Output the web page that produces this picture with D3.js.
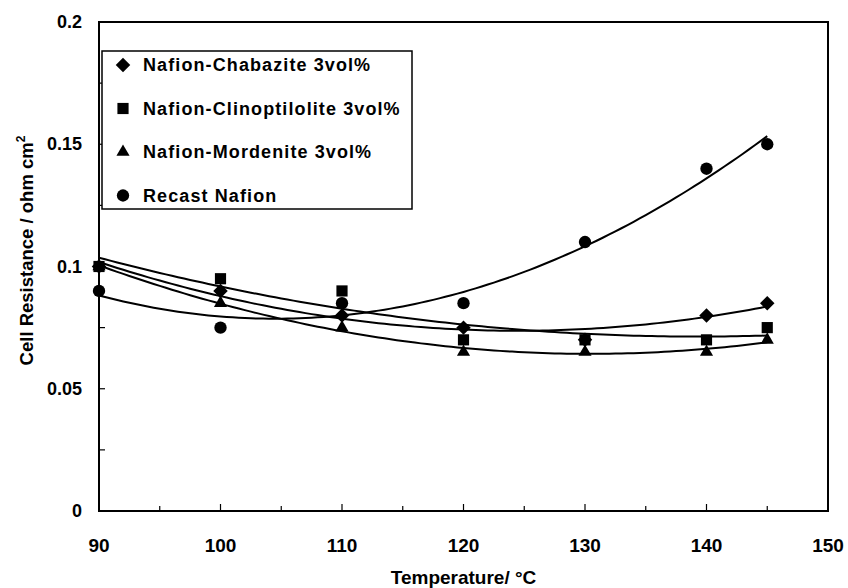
<!DOCTYPE html>
<html lang="en">
<head>
<meta charset="UTF-8">
<title>Cell Resistance vs Temperature</title>
<script src="https://d3js.org/d3.v7.min.js"></script>
<style>
    body { margin: 0; background: #fff; }
    svg text { font-family: "Liberation Sans", Arial, sans-serif; font-weight: bold; fill: #000; }
    .narrow { font-family: "Liberation Sans Narrow", "Liberation Sans", Arial, sans-serif; }
</style>
</head>
<body>
<div id="chart"></div>
<script>
// data
const temps = [90, 100, 110, 120, 130, 140, 145];
const chabazite = [0.100, 0.090, 0.080, 0.075, 0.070, 0.080, 0.085];
const clinoptilolite = [0.100, 0.095, 0.090, 0.070, 0.070, 0.070, 0.075];
const mordenite = [0.100, 0.085, 0.075, 0.065, 0.065, 0.065, 0.070];
const recast = [0.090, 0.075, 0.085, 0.085, 0.110, 0.140, 0.150];
const seriesNames = ["Nafion-Chabazite 3vol%", "Nafion-Clinoptilolite 3vol%", "Nafion-Mordenite 3vol%", "Recast Nafion"];
const xTicks = [90, 100, 110, 120, 130, 140, 150];
const yTicks = [0, 0.05, 0.1, 0.15, 0.2];

const series = [
    { name: seriesNames[0], values: chabazite, shape: "diamond" },
    { name: seriesNames[1], values: clinoptilolite, shape: "square" },
    { name: seriesNames[2], values: mordenite, shape: "triangle" },
    { name: seriesNames[3], values: recast, shape: "circle" }
];

const width = 848, height = 588;
const margin = { top: 22, right: 20, bottom: 77, left: 99 };

const svg = d3.select("#chart").append("svg")
    .attr("width", width)
    .attr("height", height);

const x = d3.scaleLinear().domain([90, 150]).range([margin.left, width - margin.right]);
const y = d3.scaleLinear().domain([0, 0.2]).range([height - margin.bottom, margin.top]);

// quadratic least squares trendline (like the spreadsheet polynomial fit)
function quadFit(xs, ys) {
    const c = d3.mean(xs);
    const S = [0, 0, 0, 0, 0], T = [0, 0, 0];
    xs.forEach((xv, i) => {
        const u = xv - c;
        for (let k = 0; k < 5; k++) S[k] += Math.pow(u, k);
        for (let k = 0; k < 3; k++) T[k] += ys[i] * Math.pow(u, k);
    });
    const A = [[S[0], S[1], S[2], T[0]], [S[1], S[2], S[3], T[1]], [S[2], S[3], S[4], T[2]]];
    for (let i = 0; i < 3; i++) {
        for (let j = i + 1; j < 3; j++) {
            const f = A[j][i] / A[i][i];
            for (let k = i; k < 4; k++) A[j][k] -= f * A[i][k];
        }
    }
    const b = [0, 0, 0];
    for (let i = 2; i >= 0; i--) {
        let s = A[i][3];
        for (let k = i + 1; k < 3; k++) s -= A[i][k] * b[k];
        b[i] = s / A[i][i];
    }
    return t => b[0] + b[1] * (t - c) + b[2] * (t - c) * (t - c);
}

// frame
svg.append("rect")
    .attr("x", x(90)).attr("y", y(0.2))
    .attr("width", x(150) - x(90)).attr("height", y(0) - y(0.2))
    .attr("fill", "none").attr("stroke", "#000").attr("stroke-width", 2);

// x ticks (inside, every 5)
svg.append("g")
    .selectAll("line")
    .data(d3.range(95, 150, 5))
    .join("line")
    .attr("x1", d => x(d)).attr("x2", d => x(d))
    .attr("y1", y(0)).attr("y2", d => y(0) - (d % 10 === 0 ? 7 : 5))
    .attr("stroke", "#000").attr("stroke-width", 1.2);

// y ticks (inside, every 0.025)
svg.append("g")
    .selectAll("line")
    .data(d3.range(1, 8).map(i => i * 0.025))
    .join("line")
    .attr("x1", x(90)).attr("x2", x(90) + 6)
    .attr("y1", d => y(d)).attr("y2", d => y(d))
    .attr("stroke", "#000").attr("stroke-width", 1.2);

// tick labels
svg.append("g")
    .selectAll("text")
    .data(xTicks)
    .join("text")
    .attr("class", "narrow")
    .attr("x", d => x(d)).attr("y", y(0) + 41)
    .attr("text-anchor", "middle")
    .attr("font-size", 19)
    .text(d => d);

svg.append("g")
    .selectAll("text")
    .data(yTicks)
    .join("text")
    .attr("x", x(90) - 17).attr("y", d => y(d) + 6)
    .attr("text-anchor", "end")
    .attr("font-size", 18)
    .text(d => d3.format("~g")(d));

// axis titles
svg.append("text")
    .attr("class", "narrow")
    .attr("x", (x(90) + x(150)) / 2).attr("y", 584)
    .attr("text-anchor", "middle")
    .attr("font-size", 19)
    .text("Temperature/ °C");

const yt = svg.append("text")
    .attr("transform", `translate(33,${(y(0) + y(0.2)) / 2 - 16}) rotate(-90)`)
    .attr("text-anchor", "middle")
    .attr("font-size", 18.5);
yt.append("tspan").text("Cell Resistance / ohm cm");
yt.append("tspan").attr("font-size", 12).attr("dy", -8).text("2");

// trendlines
const line = d3.line().x(d => x(d[0])).y(d => y(d[1]));
series.forEach(s => {
    const f = quadFit(temps, s.values);
    const pts = d3.range(90, 145.01, 0.5).map(t => [t, f(t)]);
    svg.append("path")
        .datum(pts)
        .attr("d", line)
        .attr("fill", "none")
        .attr("stroke", "#000")
        .attr("stroke-width", 2);
});

// markers
const symbols = {
    diamond: d3.symbol().type(d3.symbolSquare).size(105),
    square: d3.symbol().type(d3.symbolSquare).size(125),
    triangle: d3.symbol().type(d3.symbolTriangle).size(75),
    circle: d3.symbol().type(d3.symbolCircle).size(120)
};
const rot = { diamond: 45, square: 0, triangle: 0, circle: 0 };

series.forEach(s => {
    svg.append("g")
        .selectAll("path")
        .data(temps.map((t, i) => [t, s.values[i]]))
        .join("path")
        .attr("d", symbols[s.shape])
        .attr("transform", d => `translate(${x(d[0])},${y(d[1])}) rotate(${rot[s.shape]})`)
        .attr("fill", "#000");
});

// legend
const lg = svg.append("g").attr("transform", "translate(102,51)");
lg.append("rect")
    .attr("width", 310).attr("height", 158)
    .attr("fill", "#fff").attr("stroke", "#000").attr("stroke-width", 1.5);
series.forEach((s, i) => {
    const cy = 14 + i * 43.5;
    lg.append("path")
        .attr("d", symbols[s.shape])
        .attr("transform", `translate(21,${cy}) rotate(${rot[s.shape]})`)
        .attr("fill", "#000");
    lg.append("text")
        .attr("x", 41).attr("y", cy + 6)
        .attr("font-size", 18)
        .attr("letter-spacing", 1.1)
        .text(s.name);
});
</script>
</body>
</html>
